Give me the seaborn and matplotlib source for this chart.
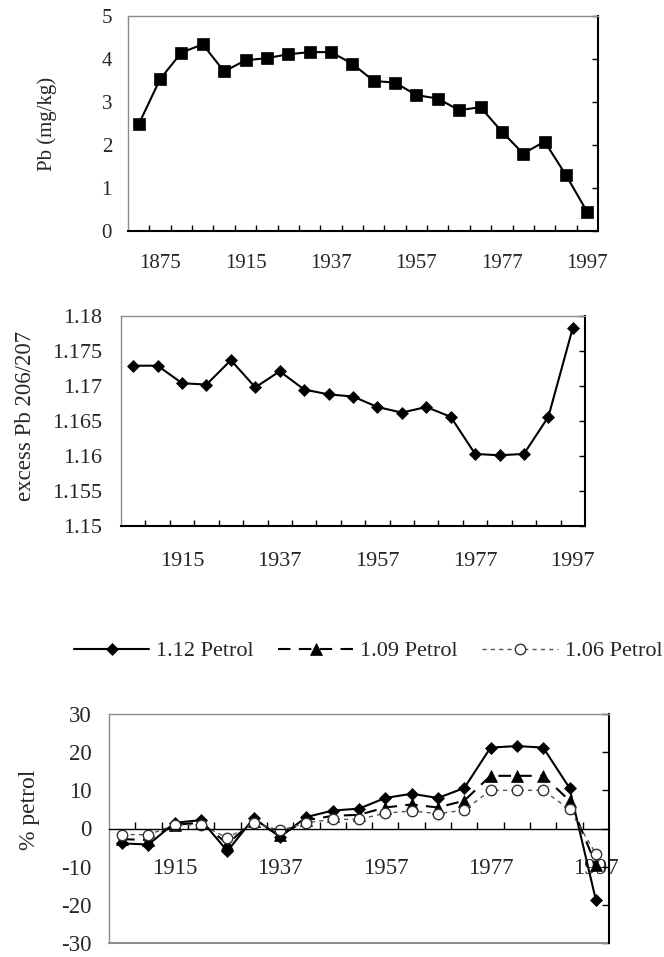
import numpy as np
import seaborn as sns
import matplotlib.pyplot as plt
from matplotlib.ticker import FixedLocator, MultipleLocator

# sample years (only every 4th one is labelled on the charts)
years_top = ["1865", "1875", "1885", "1895", "1905", "1915", "1920", "1926",
             "1932", "1937", "1942", "1947", "1952", "1957", "1962", "1967",
             "1972", "1977", "1982", "1987", "1992", "1997"]
years = years_top[3:]

pb_conc = [2.48, 3.53, 4.15, 4.34, 3.71, 3.97, 4.02, 4.11, 4.16, 4.16, 3.89,
           3.49, 3.45, 3.16, 3.08, 2.81, 2.88, 2.31, 1.80, 2.08, 1.30, 0.44]

excess_ratio = [1.1729, 1.1729, 1.1704, 1.1702, 1.1737, 1.1698, 1.1721,
                1.1695, 1.1688, 1.1685, 1.1670, 1.1662, 1.1670, 1.1656,
                1.1603, 1.1601, 1.1603, 1.1656, 1.1783]

petrol_112 = [-3.9, -4.2, 1.5, 2.2, -5.9, 2.7, -2.2, 3.0, 4.7, 5.2, 8.0,
              9.1, 8.0, 10.6, 21.2, 21.6, 21.2, 10.6, -18.7]
petrol_109 = [-2.8, -3.0, 1.0, 1.5, -4.0, 2.0, -1.8, 2.2, 3.3, 3.6, 5.5,
              6.3, 5.5, 7.3, 13.8, 13.8, 13.8, 7.3, -9.5]
petrol_106 = [-1.6, -1.6, 0.9, 1.0, -2.5, 1.5, -0.5, 1.5, 2.4, 2.4, 4.0,
              4.6, 3.9, 4.8, 10.0, 10.0, 10.0, 5.0, -6.6]

sns.set_style("white")
plt.rcParams['font.family'] = ['Liberation Serif', 'DejaVu Serif']
plt.rcParams['axes.unicode_minus'] = False

W, H = 664, 957
fig = plt.figure(figsize=(W / 100, H / 100), dpi=100)


def add_axes(left, top, right, bottom):
    return fig.add_axes([left / W, 1 - bottom / H, (right - left) / W, (bottom - top) / H])


def style_axes(ax, labels, first, fs, xpad, ypad, tick_len):
    n = len(labels)
    ax.set_xlim(-0.5, n - 0.5)
    ax.xaxis.set_major_locator(FixedLocator(range(first, n, 4)))
    ax.set_xticklabels(labels[first::4])
    ax.xaxis.set_minor_locator(FixedLocator(np.arange(0.5, n - 1, 1.0)))
    ax.tick_params(axis='x', which='major', length=0, pad=xpad, labelsize=fs)
    ax.tick_params(axis='x', which='minor', direction='in', length=tick_len,
                   width=1, color='black', bottom=True)
    ax.tick_params(axis='y', which='major', left=False, right=True, labelleft=True,
                   direction='in', length=tick_len, width=1, color='black',
                   pad=ypad, labelsize=fs)
    for side in ('left', 'top'):
        ax.spines[side].set_color('#8c8c8c')
        ax.spines[side].set_linewidth(1)
    for side in ('bottom', 'right'):
        ax.spines[side].set_color('black')
        ax.spines[side].set_linewidth(1.5)
    ax.grid(False)


# --- top: Pb concentration ---
ax1 = add_axes(128, 16, 598, 231)
sns.lineplot(x=np.arange(len(years_top)), y=pb_conc, ax=ax1, color='black',
             linewidth=1.5, marker='s', markersize=8.5, markeredgecolor='black',
             markeredgewidth=0.5)
ax1.set_ylim(0, 5)
ax1.yaxis.set_major_locator(MultipleLocator(1))
style_axes(ax1, years_top, 1, 15, 16.5, 11.5, 4.3)
ax1.set_ylabel("Pb (mg/kg)", fontsize=15, va='center')
ax1.yaxis.set_label_coords(-0.172, 0.5)

# --- middle: excess Pb 206/207 ---
ax2 = add_axes(121, 316, 585, 526)
sns.lineplot(x=np.arange(len(years)), y=excess_ratio, ax=ax2, color='black',
             linewidth=1.5, marker='D', markersize=6.5, markeredgecolor='black',
             markeredgewidth=0.5)
ax2.set_ylim(1.15, 1.18)
ticks2 = np.round(np.arange(1.15, 1.1801, 0.005), 3)
ax2.yaxis.set_major_locator(FixedLocator(ticks2))
ax2.set_yticklabels([f"{t:g}" for t in ticks2])
style_axes(ax2, years, 2, 16, 19, 13.5, 4)
ax2.set_ylabel("excess Pb 206/207", fontsize=16.5, va='center')
ax2.yaxis.set_label_coords(-0.206, 0.524)

# --- bottom: % petrol ---
ax3 = add_axes(109, 714, 609, 943)
xs = np.arange(len(years))
sns.lineplot(x=xs, y=petrol_112, ax=ax3, color='black', linewidth=1.5,
             marker='D', markersize=6.3, markeredgecolor='black',
             markeredgewidth=0.5, label="1.12 Petrol")
sns.lineplot(x=xs, y=petrol_109, ax=ax3, color='black', linewidth=1.5,
             linestyle=(0, (6, 4)), marker='^', markersize=8,
             markeredgecolor='black', markeredgewidth=0.5, label="1.09 Petrol")
sns.lineplot(x=xs, y=petrol_106, ax=ax3, color='#555555', linewidth=1,
             linestyle=(0, (3, 3)), marker='o', markersize=7.5,
             markerfacecolor='white', markeredgecolor='#333333',
             markeredgewidth=1, label="1.06 Petrol")
ax3.set_ylim(-30, 30)
ax3.yaxis.set_major_locator(MultipleLocator(10))
style_axes(ax3, years, 2, 16.5, 21, 12.5, 5)
ax3.spines['bottom'].set_position(('data', 0))
ax3.spines['bottom'].set_linewidth(1)
ax3.axhline(-30, color='#8c8c8c', linewidth=1.5, clip_on=False)
ax3.set_ylabel("% petrol", fontsize=17, va='center')
ax3.yaxis.set_label_coords(-0.158, 0.58)

handles, labels = ax3.get_legend_handles_labels()
ax3.get_legend().remove()
fig.legend(handles, labels, loc='center', bbox_to_anchor=(368 / W, 1 - 651 / H),
           ncol=3, frameon=False, fontsize=16, handlelength=3.4,
           handletextpad=0.3, columnspacing=1.1)

fig.savefig("out.png", dpi=100)
